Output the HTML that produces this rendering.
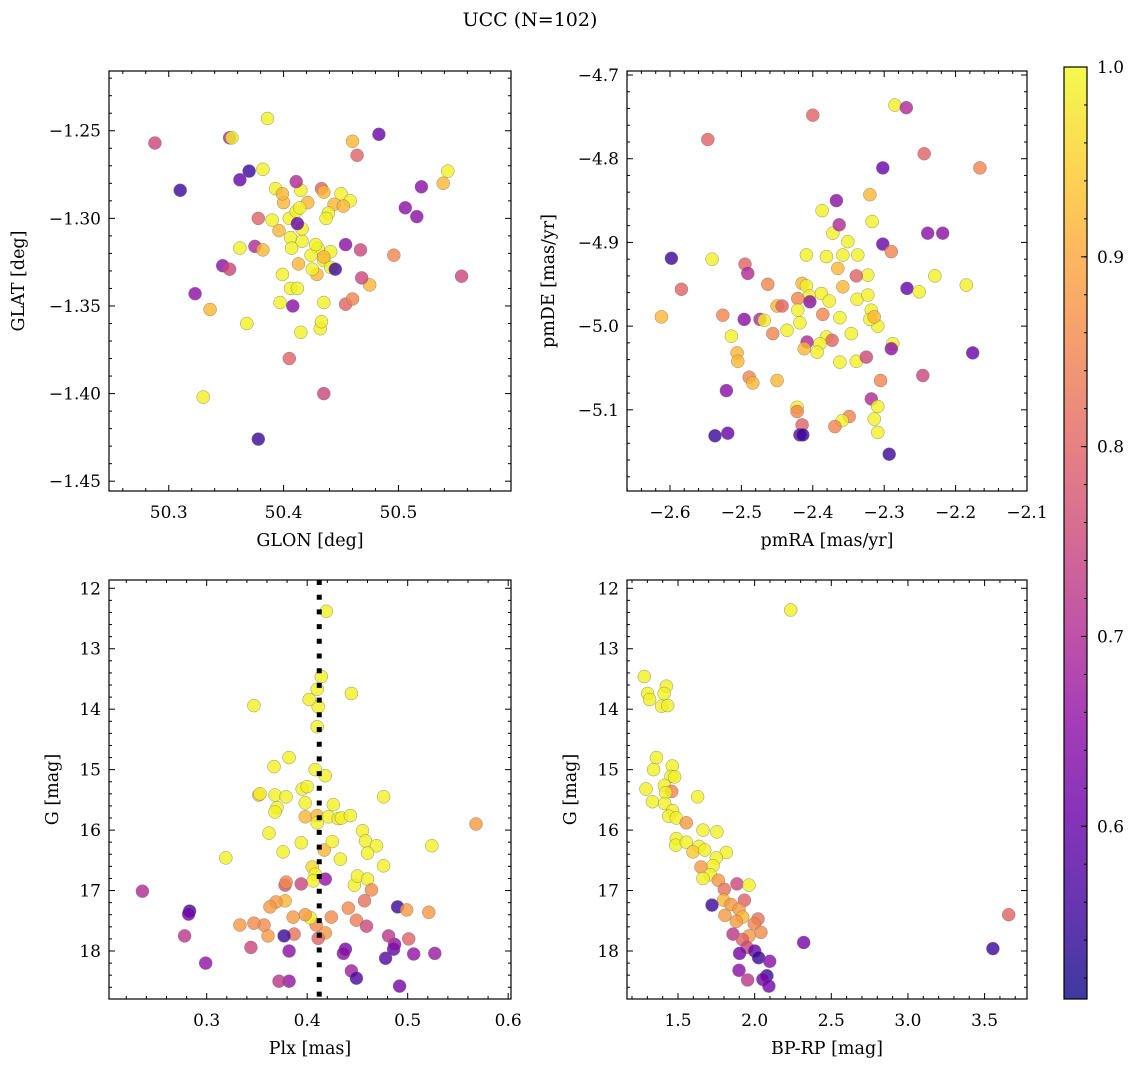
<!DOCTYPE html>
<html><head><meta charset="utf-8"><style>
html,body{margin:0;padding:0;background:#fff;}
svg{display:block;font-family:"DejaVu Serif","Liberation Serif",serif;}
</style></head><body>
<svg id="fig" width="1136" height="1067" viewBox="0 0 1136 1067" xmlns="http://www.w3.org/2000/svg">
<defs><linearGradient id="plasmaGrad" x1="0" y1="1" x2="0" y2="0"></linearGradient></defs>
<text x="530" y="26" font-size="19" text-anchor="middle">UCC (N=102)</text>
</svg>
<script>
// ---- Panel 1: GLON / GLAT ----
const glon = [50.288,50.310,50.353,50.355,50.386,50.370,50.362,50.382,50.483,50.460,50.464,50.520,50.543,50.539,50.506,50.516,50.496,50.555,50.323,50.347,50.353,50.336,50.368,50.330,50.378,50.405,50.435,50.415,50.432,50.433,50.454,50.460,50.475,50.468,50.454,50.467,50.430,50.441,50.435,50.424,50.416,50.406,50.396,50.390,50.400,50.415,50.433,50.435,50.450,50.458,50.444,50.439,50.437,50.411,50.421,50.405,50.407,50.413,50.399,50.406,50.412,50.397,50.408,50.429,50.425,50.441,50.445,50.435,50.428,50.416,50.393,50.399,50.378,50.375,50.362,50.382,50.411,50.412,50.414,50.435,50.452];
const glat = [-1.257,-1.284,-1.254,-1.254,-1.243,-1.273,-1.278,-1.272,-1.252,-1.256,-1.264,-1.282,-1.273,-1.280,-1.294,-1.299,-1.321,-1.333,-1.343,-1.327,-1.329,-1.352,-1.360,-1.402,-1.426,-1.380,-1.400,-1.365,-1.363,-1.359,-1.349,-1.346,-1.338,-1.334,-1.315,-1.318,-1.317,-1.319,-1.324,-1.321,-1.313,-1.311,-1.307,-1.301,-1.291,-1.284,-1.283,-1.285,-1.286,-1.290,-1.292,-1.297,-1.300,-1.279,-1.291,-1.300,-1.317,-1.326,-1.332,-1.340,-1.340,-1.348,-1.350,-1.332,-1.329,-1.328,-1.329,-1.322,-1.315,-1.306,-1.283,-1.286,-1.300,-1.316,-1.317,-1.318,-1.296,-1.303,-1.294,-1.348,-1.293];
const probPos = [.75,.55,.70,.99,.99,.55,.60,.99,.60,.92,.80,.65,.99,.92,.65,.65,.85,.75,.65,.65,.75,.92,.99,.99,.55,.80,.75,.99,.99,.99,.80,.85,.92,.75,.65,.75,.99,.99,.99,.99,.99,.99,.92,.99,.92,.99,.80,.92,.99,.99,.92,.99,.99,.70,.92,.99,.99,.92,.99,.99,.99,.99,.65,.92,.99,.99,.55,.92,.99,.99,.99,.92,.80,.70,.99,.92,.99,.60,.99,.99,.92];

// ---- Panel 2: pmRA / pmDE ----
const pmra = [-2.285,-2.269,-2.400,-2.547,-2.244,-2.166,-2.302,-2.320,-2.367,-2.387,-2.317,-2.239,-2.218,-2.372,-2.363,-2.351,-2.302,-2.290,-2.337,-2.358,-2.381,-2.598,-2.541,-2.495,-2.229,-2.491,-2.409,-2.323,-2.339,-2.365,-2.463,-2.415,-2.409,-2.268,-2.251,-2.584,-2.185,-2.612,-2.526,-2.405,-2.388,-2.358,-2.421,-2.450,-2.377,-2.338,-2.323,-2.318,-2.443,-2.496,-2.474,-2.386,-2.404,-2.436,-2.421,-2.362,-2.309,-2.320,-2.314,-2.346,-2.418,-2.468,-2.514,-2.506,-2.505,-2.456,-2.381,-2.373,-2.408,-2.390,-2.394,-2.339,-2.325,-2.362,-2.288,-2.176,-2.305,-2.489,-2.484,-2.450,-2.412,-2.521,-2.318,-2.422,-2.422,-2.415,-2.349,-2.309,-2.314,-2.359,-2.418,-2.369,-2.519,-2.537,-2.414,-2.309,-2.293,-2.246,-2.290];
const pmde = [-4.736,-4.739,-4.748,-4.777,-4.794,-4.811,-4.811,-4.843,-4.850,-4.862,-4.875,-4.889,-4.889,-4.889,-4.879,-4.899,-4.902,-4.911,-4.915,-4.915,-4.917,-4.919,-4.920,-4.926,-4.940,-4.937,-4.915,-4.939,-4.940,-4.931,-4.950,-4.949,-4.952,-4.955,-4.959,-4.956,-4.951,-4.989,-4.987,-4.964,-4.961,-4.953,-4.967,-4.976,-4.970,-4.968,-4.963,-4.981,-4.976,-4.992,-4.992,-4.986,-4.971,-5.005,-4.981,-4.990,-5.000,-4.992,-4.989,-5.009,-4.996,-4.993,-5.012,-5.032,-5.042,-5.009,-5.013,-5.017,-5.019,-5.021,-5.031,-5.042,-5.037,-5.043,-5.021,-5.032,-5.065,-5.061,-5.068,-5.065,-5.027,-5.077,-5.087,-5.097,-5.102,-5.118,-5.108,-5.096,-5.111,-5.113,-5.130,-5.120,-5.128,-5.131,-5.130,-5.127,-5.153,-5.059,-5.027];
const probPm = [.99,.70,.80,.80,.80,.85,.60,.92,.65,.99,.99,.65,.65,.99,.70,.99,.60,.85,.99,.99,.99,.55,.99,.80,.99,.70,.99,.99,.80,.92,.85,.92,.99,.60,.99,.80,.99,.92,.85,.99,.99,.92,.85,.92,.99,.99,.99,.99,.80,.65,.70,.85,.65,.99,.99,.99,.99,.99,.92,.99,.99,.99,.99,.92,.92,.85,.99,.80,.70,.99,.99,.99,.75,.99,.99,.60,.85,.85,.92,.92,.92,.65,.70,.99,.85,.80,.85,.99,.99,.99,.60,.85,.60,.55,.55,.99,.55,.75,.65];

// ---- Panel 3: Plx / G ----
const plx = [.419,.414,.410,.411,.402,.444,.410,.347,.382,.367,.408,.418,.352,.353,.368,.379,.370,.368,.398,.395,.400,.426,.398,.410,.421,.431,.434,.443,.410,.476,.362,.394,.376,.417,.425,.433,.455,.458,.469,.460,.476,.524,.568,.319,.405,.408,.406,.418,.378,.379,.394,.447,.450,.460,.464,.457,.441,.449,.459,.424,.418,.411,.409,.403,.398,.386,.378,.369,.363,.361,.357,.347,.333,.387,.377,.382,.382,.372,.344,.299,.278,.283,.282,.236,.438,.436,.444,.449,.478,.486,.487,.481,.490,.499,.521,.501,.506,.527,.492];
const gmagP = [12.38,13.46,13.67,13.96,13.84,13.74,14.29,13.94,14.80,14.95,15.00,15.10,15.42,15.40,15.42,15.45,15.63,15.70,15.55,15.32,15.28,15.58,15.78,15.76,15.78,15.81,15.80,15.76,15.88,15.45,16.05,16.21,16.36,16.33,16.19,16.48,16.01,16.18,16.26,16.38,16.59,16.26,15.90,16.46,16.61,16.73,16.84,16.81,16.91,16.86,16.89,16.91,16.76,16.81,16.99,17.17,17.29,17.49,17.59,17.44,17.70,17.79,17.57,17.45,17.40,17.44,17.17,17.19,17.27,17.75,17.57,17.54,17.57,17.72,17.75,18.00,18.50,18.50,17.94,18.20,17.75,17.34,17.39,17.01,17.97,18.04,18.33,18.45,18.12,17.97,17.89,17.75,17.27,17.32,17.36,17.80,18.05,18.04,18.58];
const probPlx = [.99,.99,.99,.99,.99,.99,.99,.99,.99,.99,.99,.99,.92,.99,.99,.99,.99,.99,.99,.99,.99,.99,.92,.92,.99,.99,.99,.99,.99,.99,.99,.99,.99,.92,.99,.99,.99,.99,.99,.99,.99,.99,.88,.99,.96,.99,.99,.66,.77,.86,.75,.99,.99,.99,.86,.82,.86,.84,.75,.86,.88,.80,.86,.99,.88,.88,.92,.88,.88,.88,.86,.86,.88,.82,.55,.65,.66,.72,.75,.66,.72,.55,.62,.70,.62,.65,.68,.57,.58,.60,.65,.72,.55,.88,.88,.80,.66,.67,.62];
const plxRef = [0.412];

// ---- Panel 4: BP-RP / G ----
const bprp = [2.235,1.280,1.302,1.315,1.424,1.409,1.393,1.433,1.359,1.341,1.463,1.454,1.478,1.291,1.411,1.459,1.419,1.333,1.413,1.628,1.465,1.439,1.489,1.554,1.663,1.754,1.489,1.485,1.554,1.637,1.598,1.674,1.815,1.750,1.728,1.650,1.711,1.663,1.763,1.885,1.963,1.802,1.798,1.722,1.933,1.846,1.898,1.806,1.922,1.880,2.022,1.998,2.041,1.963,1.859,1.920,1.950,1.902,2.000,2.026,2.098,2.320,1.898,1.954,2.080,2.054,2.093,3.657,3.554];
const gmagC = [12.36,13.46,13.74,13.84,13.62,13.74,13.95,13.94,14.80,15.00,14.94,15.11,15.12,15.32,15.26,15.36,15.38,15.53,15.56,15.45,15.68,15.77,15.80,15.88,16.00,16.03,16.14,16.25,16.20,16.27,16.36,16.33,16.37,16.46,16.59,16.61,16.74,16.80,16.83,16.89,16.91,16.98,17.16,17.24,17.16,17.23,17.31,17.41,17.44,17.51,17.47,17.55,17.69,17.75,17.72,17.81,17.94,18.04,18.00,18.11,18.17,17.86,18.32,18.48,18.41,18.47,18.58,17.40,17.96];
const probCmd = [.99,.99,.99,.99,.99,.99,.99,.99,.99,.99,.99,.99,.99,.99,.99,.85,.99,.99,.99,.99,.99,.99,.99,.88,.99,.99,.99,.99,.99,.99,.94,.99,.99,.99,.99,.88,.99,.99,.88,.75,.99,.82,.92,.55,.80,.88,.88,.88,.92,.88,.82,.85,.86,.88,.72,.80,.75,.62,.60,.55,.65,.62,.65,.72,.55,.62,.62,.80,.55];

// ---- Colour scale ----
const cbTicks = [0.6, 0.7, 0.8, 0.9, 1.0];
const VMIN = 0.509, VMAX = 1.0;
const PLASMA = ["#0d0887","#41049d","#6a00a8","#8f0da4","#b12a90","#cc4778","#e16462","#f2844b","#fca636","#fcce25","#f0f921"];
function hex(h){return [1,3,5].map(i=>parseInt(h.substr(i,2),16));}
function cmap(v){
  let t=(v-VMIN)/(VMAX-VMIN); t=Math.max(0,Math.min(1,t));
  const s=t*10, i=Math.min(9,Math.floor(s)), f=s-i;
  const a=hex(PLASMA[i]), b=hex(PLASMA[i+1]);
  return "rgb("+a.map((c,k)=>Math.round(c+(b[k]-c)*f)).join(",")+")";
}

const NS="http://www.w3.org/2000/svg";
const svg=document.getElementById("fig");
function el(tag,attrs,parent){const e=document.createElementNS(NS,tag);for(const k in attrs)e.setAttribute(k,attrs[k]);(parent||svg).appendChild(e);return e;}
function fmt(v,d){const s=Math.abs(v).toFixed(d);return (v<-1e-9?"\u2212":"")+s;}

function panel(cfg){
  const g=el("g",{});
  
  
  const {x0,x1,y0,y1,xd,yd}=cfg;
  const sx=v=>x0+(v-xd[0])/(xd[1]-xd[0])*(x1-x0);
  const sy=v=>y0+(v-yd[0])/(yd[1]-yd[0])*(y1-y0);
  const pg=el("g",{},g);
  
  
  for(let i=0;i<cfg.xs.length;i++){
    const c=el("circle",{cx:sx(cfg.xs[i]).toFixed(1),cy:sy(cfg.ys[i]).toFixed(1),r:6.5,fill:cmap(cfg.ps[i]),"fill-opacity":0.8,stroke:"#777","stroke-width":0.5,"stroke-opacity":0.8},pg);
    
    
  }
  if(cfg.vline){
    for(const v of cfg.vline){
      const l=el("line",{x1:sx(v),x2:sx(v),y1:y0,y2:y1,stroke:"#000","stroke-width":5,"stroke-dasharray":"5 9.7"},g);
      
      
    }
  }
  const tk=el("g",{stroke:"#000","stroke-width":1},g);
  
  
  const lo=Math.min(...xd),hi=Math.max(...xd);
  for(let k=Math.ceil(lo/cfg.xminor-1e-6);k*cfg.xminor<=hi+1e-9;k++){
    const v=k*cfg.xminor, X=sx(v);
    const major=Math.abs(v/cfg.xmajor-Math.round(v/cfg.xmajor))<1e-6;
    const L=major?6:3;
    el("line",{x1:X,x2:X,y1:y1,y2:y1-L},tk);el("line",{x1:X,x2:X,y1:y0,y2:y0+L},tk);
    if(major){const t=el("text",{x:X,y:y1+27,"font-size":17,"text-anchor":"middle",stroke:"none",fill:"#000"},g);t.textContent=fmt(v,cfg.xdec);
      }
  }
  const ylo=Math.min(...yd),yhi=Math.max(...yd);
  for(let k=Math.ceil(ylo/cfg.yminor-1e-6);k*cfg.yminor<=yhi+1e-9;k++){
    const v=k*cfg.yminor, Y=sy(v);
    const major=Math.abs(v/cfg.ymajor-Math.round(v/cfg.ymajor))<1e-6;
    const L=major?6:3;
    el("line",{x1:x0,x2:x0+L,y1:Y,y2:Y},tk);el("line",{x1:x1,x2:x1-L,y1:Y,y2:Y},tk);
    if(major){const t=el("text",{x:x0-8,y:Y+6,"font-size":17,"text-anchor":"end",stroke:"none",fill:"#000"},g);t.textContent=fmt(v,cfg.ydec);
      }
  }
  const fr=el("rect",{x:x0,y:y0,width:x1-x0,height:y1-y0,fill:"none",stroke:"#000","stroke-width":1.2},g);
  
  
  const xl=el("text",{x:(x0+x1)/2,y:y1+55,"font-size":17.5,"text-anchor":"middle"},g);
  xl.textContent=cfg.xlabel;
  
  
  const yl=el("text",{x:0,y:0,"font-size":17.5,"text-anchor":"middle",transform:`translate(${cfg.ylx},${(y0+y1)/2}) rotate(-90)`},g);
  yl.textContent=cfg.ylabel;
  
  
}

panel({name:"glon-glat-panel",x0:109,x1:511,y0:71,y1:491,xd:[50.248,50.598],yd:[-1.2159,-1.4556],
  xs:glon,ys:glat,ps:probPos,xmajor:0.1,xminor:0.02,ymajor:0.05,yminor:0.01,xdec:1,ydec:2,xlabel:"GLON [deg]",ylabel:"GLAT [deg]",ylx:24});
panel({name:"pm-panel",x0:627,x1:1027,y0:71,y1:491,xd:[-2.6602,-2.1],yd:[-4.6952,-5.197],
  xs:pmra,ys:pmde,ps:probPm,xmajor:0.1,xminor:0.02,ymajor:0.1,yminor:0.02,xdec:1,ydec:1,xlabel:"pmRA [mas/yr]",ylabel:"pmDE [mas/yr]",ylx:554});
panel({name:"plx-g-panel",x0:109,x1:511,y0:580,y1:999,xd:[0.2028,0.6028],yd:[11.863,18.794],
  xs:plx,ys:gmagP,ps:probPlx,vline:plxRef,xmajor:0.1,xminor:0.02,ymajor:1,yminor:0.2,xdec:1,ydec:0,xlabel:"Plx [mas]",ylabel:"G [mag]",ylx:58});
panel({name:"cmd-panel",x0:627,x1:1027,y0:580,y1:999,xd:[1.1673,3.7766],yd:[11.863,18.794],
  xs:bprp,ys:gmagC,ps:probCmd,xmajor:0.5,xminor:0.1,ymajor:1,yminor:0.2,xdec:1,ydec:0,xlabel:"BP-RP [mag]",ylabel:"G [mag]",ylx:576});

// colorbar
const grad=document.getElementById("plasmaGrad");
PLASMA.forEach((c,i)=>el("stop",{offset:(i/10),"stop-color":c},grad));
const cb=el("g",{});


const CB={x:1064,w:23,y0:67,y1:999};
const cr=el("rect",{x:CB.x,y:CB.y0,width:CB.w,height:CB.y1-CB.y0,fill:"url(#plasmaGrad)","fill-opacity":0.8},cb);


el("rect",{x:CB.x,y:CB.y0,width:CB.w,height:CB.y1-CB.y0,fill:"none",stroke:"#000","stroke-width":1.2},cb);
const cy=v=>CB.y1-(v-VMIN)/(VMAX-VMIN)*(CB.y1-CB.y0);
for(let k=26;k<=50;k++){const v=k*0.02;if(v<VMIN)continue;const Y=cy(v);
  el("line",{x1:CB.x+CB.w,x2:CB.x+CB.w-3,y1:Y,y2:Y,stroke:"#000","stroke-width":1},cb);}
cbTicks.forEach(v=>{const Y=cy(v);
  el("line",{x1:CB.x+CB.w,x2:CB.x+CB.w-6,y1:Y,y2:Y,stroke:"#000","stroke-width":1},cb);
  const t=el("text",{x:CB.x+CB.w+10,y:Y+6,"font-size":17},cb);t.textContent=v.toFixed(1);
  });
</script>
</body></html>
